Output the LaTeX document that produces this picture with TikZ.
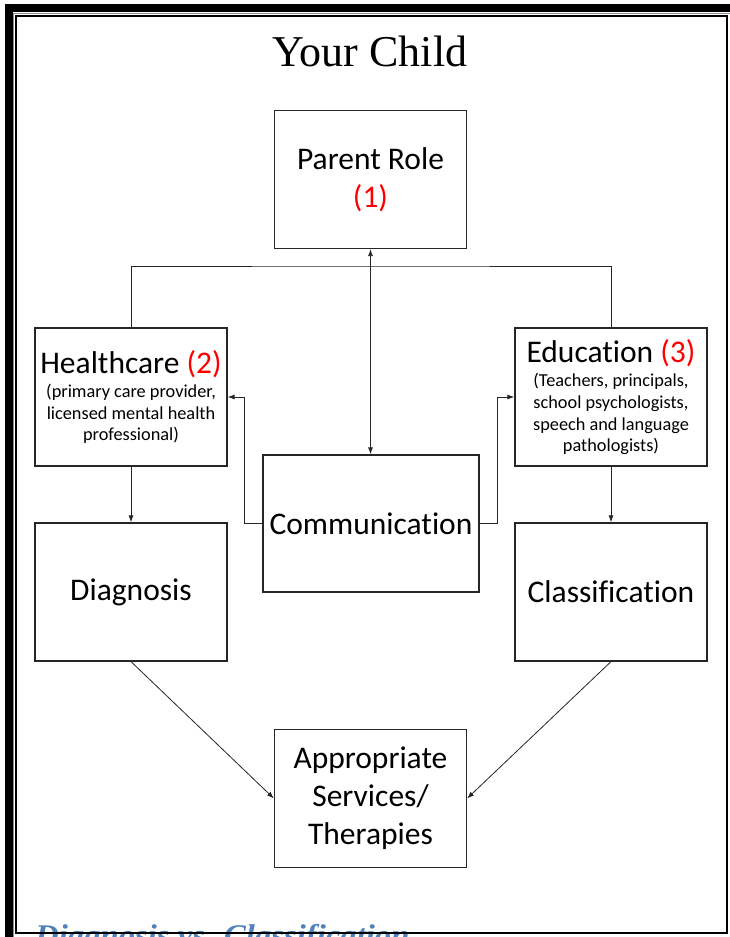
\documentclass[tikz,border=0pt]{standalone}
\usepackage{fontspec}
\setmainfont{Carlito}[Ligatures={NoCommon}]
\newfontfamily\titlefont{Liberation Serif}
\usetikzlibrary{arrows.meta}
\definecolor{headblue}{HTML}{4F81BD}
\newcommand\bigtxt{\fontsize{31.5}{38}\selectfont}
\newcommand\smtxt{\fontsize{18.3}{21.6}\selectfont}
\begin{document}
\begin{tikzpicture}[x=1pt,y=-1pt,
  box/.style={draw=black!85,line width=1.2pt,minimum width=192pt,minimum height=138pt,inner sep=0pt,align=center,font=\bigtxt},
  subbox/.style={box,font=\smtxt},
  conn/.style={line width=0.8pt,draw=black!85},
  arr/.style={conn,-{Latex[length=7pt,width=5pt]}},
  darr/.style={conn,{Latex[length=7pt,width=5pt]}-{Latex[length=7pt,width=5pt]}}]

\useasboundingbox (0,0) rectangle (730,937);
\fill[white] (0,0) rectangle (730,937);

% footer heading (cut off by the page edge)
\node[anchor=base west, inner sep=0pt, text=headblue, font=\titlefont\bfseries\itshape\fontsize{30}{34}\selectfont] (foot) at (35,945) {\scalebox{1.09}[1]{Diagnosis vs. Classification}};

% page border
\draw[line width=8pt] (8.5,1000) -- (8.5,8) -- (800,8);
\draw[black!45, line width=1pt] (13.5,1000) -- (13.5,13.5) -- (800,13.5);
\draw[line width=2.2pt] (16.2,16.2) rectangle (727,933);

% title
\node[anchor=base, inner sep=0pt, font=\titlefont\fontsize{44}{50}\selectfont] (title) at (370,66) {Your Child};

% boxes
\node[box] (parent) at (370.5,179.5) {Parent Role\\\textcolor{red}{(1)}};
\node[subbox] (health) at (131,397) {{\bigtxt Healthcare \textcolor{red}{(2)}}\\[3pt]
  (primary care provider,\\licensed mental health\\professional)};
\node[subbox] (educ) at (611,397) {{\bigtxt Education \textcolor{red}{(3)}}\\[3pt]
  (Teachers, principals,\\school psychologists,\\speech and language\\pathologists)};
\node[box, minimum width=216pt, minimum height=137pt] (comm) at (371,523.5) {Communication};
\node[box] (diag) at (131,592) {Diagnosis};
\node[box] (class) at (611,592) {Classification};
\node[box] (serv) at (370.5,798.5) {Appropriate\\Services/\\Therapies};

% connectors
\coordinate (hub) at (370.5,266);
\draw[conn] (health.north) |- (hub) -| (educ.north);
\draw[darr] (parent.south) -- (parent.south |- comm.north);
\draw[arr] (health.south) -- (diag.north);
\draw[arr] (educ.south) -- (class.north);
\draw[arr] (comm.west) -- ++(-18,0) |- (health.east);
\draw[arr] (comm.east) -- ++(18,0) |- (educ.west);
\draw[arr] (diag.south) -- (serv.west);
\draw[arr] (class.south) -- (serv.east);
\end{tikzpicture}
\end{document}
